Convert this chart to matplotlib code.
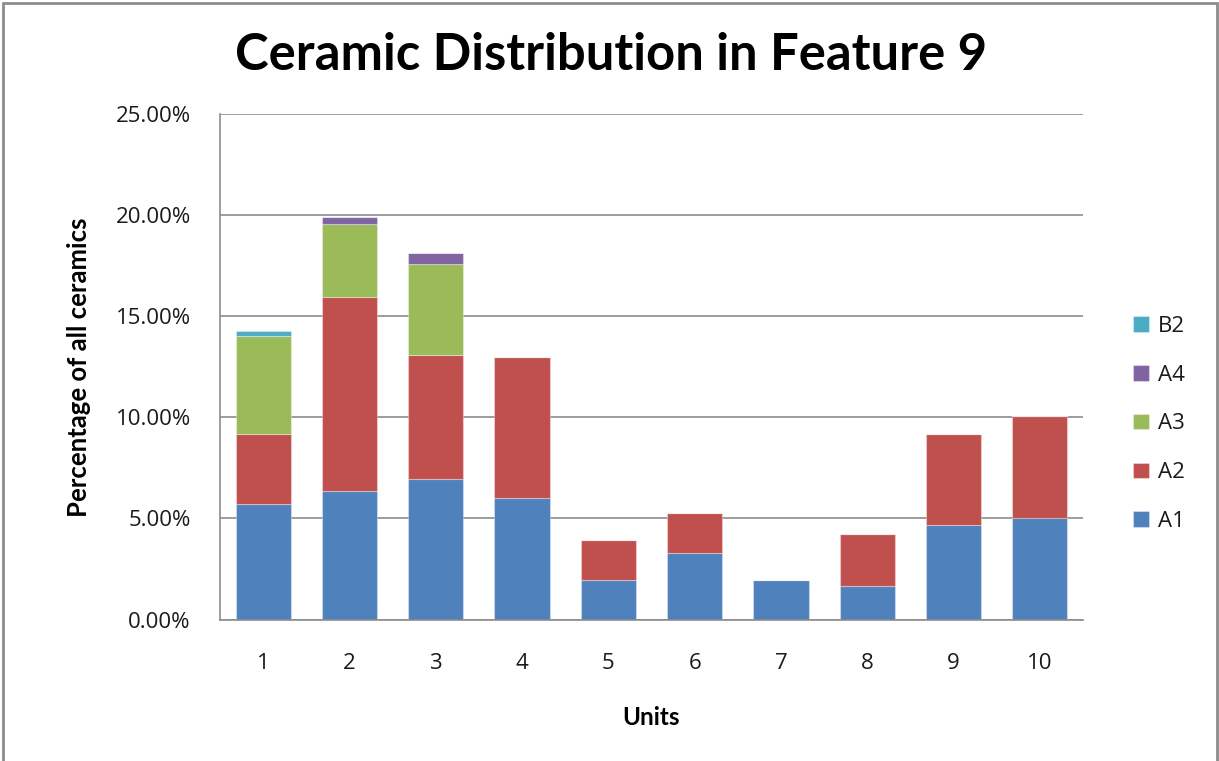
import matplotlib
matplotlib.use("Agg")
import matplotlib.pyplot as plt
from matplotlib.patches import Rectangle
import numpy as np

units = ["1", "2", "3", "4", "5", "6", "7", "8", "9", "10"]
A1 = [5.70, 6.34, 6.97, 6.03, 1.96, 3.30, 1.96, 1.65, 4.70, 5.01]
A2 = [3.49, 9.63, 6.13, 6.96, 1.98, 1.97, 0.00, 2.60, 4.49, 5.08]
A3 = [4.82, 3.60, 4.51, 0.00, 0.00, 0.00, 0.00, 0.00, 0.00, 0.00]
A4 = [0.00, 0.33, 0.51, 0.00, 0.00, 0.00, 0.00, 0.00, 0.00, 0.00]
B2 = [0.29, 0.00, 0.00, 0.00, 0.00, 0.00, 0.00, 0.00, 0.00, 0.00]
series_names = ["A1", "A2", "A3", "A4", "B2"]
series = [A1, A2, A3, A4, B2]
colors = ["#4F81BD", "#C0504D", "#9BBB59", "#8064A2", "#4BACC6"]
yticks = [0, 5, 10, 15, 20, 25]

W, H = 1219, 761
fig = plt.figure(figsize=(W / 100, H / 100), dpi=100)
L, R, B, T = 220, 1083, 619.5, 114.3
ax = fig.add_axes([L / W, (H - B) / H, (R - L) / W, (B - T) / H])

x = np.arange(len(units))
bottom = np.zeros(len(units))
handles = []
for name, vals, c in zip(series_names, series, colors):
    v = np.array(vals)
    h = ax.bar(x, v, 0.64, bottom=bottom, color=c, label=name,
               edgecolor=(1, 1, 1, 0.35), linewidth=0.8)
    handles.append(h)
    bottom += v

ax.set_xlim(-0.5, len(units) - 0.5)
ax.set_ylim(0, 25)
ax.set_yticks(yticks)
ax.set_yticklabels([f"{t:.2f}%" for t in yticks], fontsize=16, family="Open Sans",
                   color="#1a1a1a")
ax.set_xticks(x)
ax.set_xticklabels(units, fontsize=16, family="Open Sans", color="#1a1a1a")
ax.tick_params(axis="y", length=0, pad=21)
ax.tick_params(axis="x", length=0, pad=24)
ax.yaxis.grid(True, color="#8c8c8c", linewidth=1.2)
ax.set_axisbelow(True)
for s in ["top", "right"]:
    ax.spines[s].set_visible(False)
for s in ["left", "bottom"]:
    ax.spines[s].set_color("#8c8c8c")
    ax.spines[s].set_linewidth(1.2)

ax.set_ylabel("Percentage of all ceramics", fontsize=18.5, fontweight="bold",
              family="Lato", labelpad=18)
ax.set_xlabel("Units", fontsize=17.5, fontweight="bold", family="Lato", labelpad=23)

fig.text(611 / W, 1 - 55 / H, "Ceramic Distribution in Feature 9",
         ha="center", va="center", fontsize=36.5, fontweight="bold", family="Lato")

leg = fig.legend(handles[::-1], series_names[::-1], loc="center left",
                 bbox_to_anchor=(1122 / W, 1 - 424 / H), frameon=False,
                 handlelength=0.7, handleheight=0.7,
                 labelspacing=1.25, handletextpad=0.4, borderpad=0,
                 prop={"family": "Open Sans", "size": 16})
for t in leg.get_texts():
    t.set_color("#1a1a1a")

fig.patches.append(Rectangle((3 / W, -0.01), (W - 5) / W, 1 - 3 / H + 0.01,
                             transform=fig.transFigure,
                             fill=False, edgecolor="#8c8c8c", linewidth=2))

fig.savefig("out.png", dpi=100)
